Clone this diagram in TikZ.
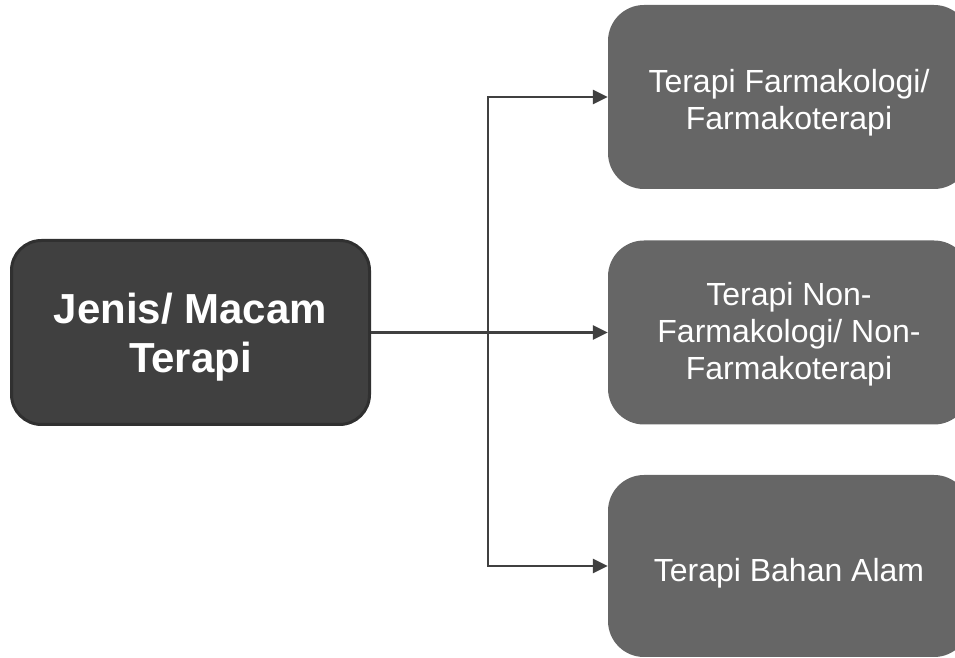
\documentclass[tikz,border=0pt]{standalone}
\usepackage{fontspec}
\setmainfont{Liberation Sans}
\usetikzlibrary{arrows.meta}
\definecolor{mainfill}{HTML}{404040}
\definecolor{boxedge}{HTML}{303030}
\definecolor{leaffill}{HTML}{666666}
\definecolor{linkcol}{HTML}{404040}
\begin{document}
\begin{tikzpicture}[x=1pt,y=1pt,
  mainbox/.style={draw=boxedge, line width=3pt, fill=mainfill, rounded corners=30pt,
    minimum width=358pt, minimum height=184pt, inner sep=0pt},
  maintext/.style={text=white, align=center, inner sep=0pt,
    font=\fontsize{42}{49}\selectfont\bfseries},
  leafbox/.style={fill=leaffill, rounded corners=36pt, minimum width=362pt,
    minimum height=184pt, inner sep=0pt},
  leaftext/.style={text=white, align=center, inner sep=0pt,
    font=\fontsize{32}{37}\selectfont},
  link/.style={draw=linkcol, line width=2.5pt},
  tip/.style={-{Triangle[length=15pt,width=14pt]}}
]
\useasboundingbox (0,0) rectangle (955,658);
\clip (0,0) rectangle (955,658);

% root box
\node[mainbox] (root) at (190.5,325.5) {};
\node[maintext] (roottxt) at ([yshift=-5pt]root.center) {Jenis/ Macam\\Terapi};

% the three kinds of therapy
\node[leafbox] (leaf1) at (789,561) {};
\node[leaftext] (leaf1txt) at ([yshift=-6pt]leaf1.center) {Terapi Farmakologi/\\Farmakoterapi};
\node[leafbox] (leaf2) at (789,325.5) {};
\node[leaftext] (leaf2txt) at ([yshift=-2pt]leaf2.center) {Terapi Non-\\Farmakologi/ Non-\\Farmakoterapi};
\node[leafbox, minimum height=182pt] (leaf3) at (789,92) {};
\node[leaftext] (leaf3txt) at ([yshift=-7pt]leaf3.center) {Terapi Bahan Alam};

% branching connector
\coordinate (j) at (488,325.5);
\draw[link] (root.east) -- (j);
\draw[link,tip] (j) |- (leaf1.west);
\draw[link,tip] (j) -- (leaf2.west);
\draw[link,tip] (j) |- (leaf3.west);
\end{tikzpicture}
\end{document}
